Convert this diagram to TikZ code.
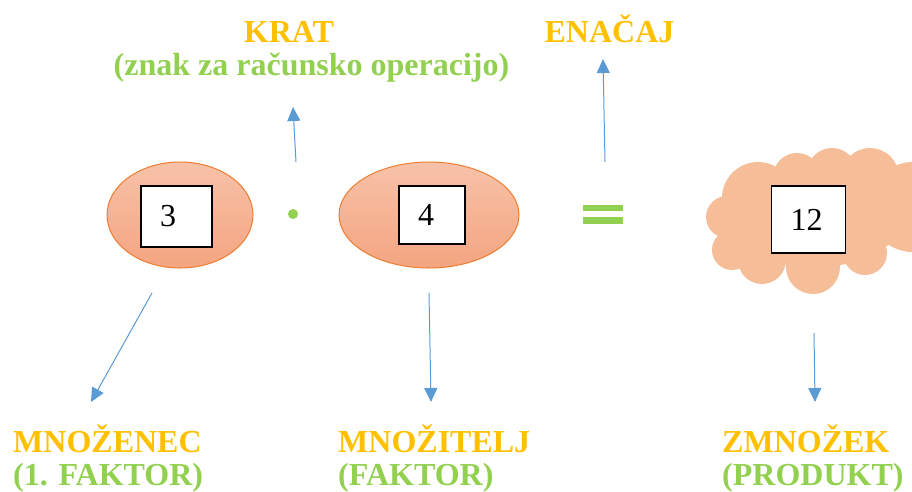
\documentclass[tikz,border=0pt]{standalone}
\usepackage{fontspec}
\setmainfont{Liberation Serif}[BoldFont={Liberation Serif Bold}]
\usetikzlibrary{shapes.geometric,arrows.meta}
\definecolor{gold}{HTML}{FFC000}
\definecolor{lgreen}{HTML}{92D050}
\definecolor{ablue}{HTML}{5B9BD5}
\definecolor{oline}{HTML}{ED7D31}
\definecolor{etop}{HTML}{F7C2A9}
\definecolor{ebot}{HTML}{F4A580}
\definecolor{cloudc}{HTML}{F5BE98}
\begin{document}
\begin{tikzpicture}[x=1pt,y=-1pt,
 lbl/.style={font=\fontsize{32}{35}\selectfont\bfseries, inner sep=0pt},
 title/.style={lbl, text=gold},
 sub/.style={lbl, text=lgreen},
 factor/.style={ellipse, draw=oline, line width=1pt, top color=etop, bottom color=ebot, inner sep=0pt},
 numbox/.style={draw=black, line width=1.2pt, fill=white, font=\fontsize{32}{35}\selectfont, align=left, inner xsep=19pt, inner ysep=0pt},
 arr/.style={draw=ablue, line width=1pt, -{Triangle[length=14pt,width=13pt]}}
]
\useasboundingbox (0,0) rectangle (912,491);

% labels
\node[title, anchor=base] (krat) at (289,42) {KRAT};
\node[sub, anchor=base] (krat2) at (311.5,75) {(znak za računsko operacijo)};
\node[title, anchor=base] (enacaj) at (609.5,42) {ENAČAJ};
\node[title, anchor=base west] (mnozenec) at (13,452) {MNOŽENEC};
\node[sub, anchor=base west] (faktor1) at (13,485) {(1. FAKTOR)};
\node[title, anchor=base west] (mnozitelj) at (338,452) {MNOŽITELJ};
\node[sub, anchor=base west] (faktor2) at (338,485) {(FAKTOR)};
\node[title, anchor=base west] (zmnozek) at (722,452) {ZMNOŽEK};
\node[sub, anchor=base west] (produkt) at (722,485) {(PRODUKT)};

% factors
\node[factor, minimum width=146pt, minimum height=106pt] (ell1) at (180,215) {};
\node[factor, minimum width=180pt, minimum height=106pt] (ell2) at (429,215) {};
\node[numbox, text width=33pt, minimum height=61pt] (n3) at (176.5,216.5) {3};
\node[numbox, text width=28pt, minimum height=58pt] (n4) at (432,215) {4};

% operators
\fill[lgreen] (293,214) circle (5);
\fill[lgreen] (583,204.5) rectangle (623,210.5);
\fill[lgreen] (583,217) rectangle (623,223.5);

% cloud
\begin{scope}
\clip (0,0) rectangle (912,491);
\fill[cloudc]
  (727,217) circle (21)
  (732,250) circle (20)
  (762,260) circle (24)
  (813,267) circle (27)
  (865,253) circle (22)
  (913,207) circle (45)
  (870,177) circle (29)
  (832,173) circle (25)
  (797,177) circle (24)
  (758,198) circle (36);
\fill[cloudc] (815,222) ellipse [x radius=85, y radius=45];
\end{scope}
\node[numbox, text width=36pt, minimum height=67pt] (n12) at (808.7,219.5) {12};

% arrows
\coordinate (kratS) at (296,162);
\coordinate (kratE) at (293,107);
\coordinate (enS) at (605,162);
\coordinate (enE) at (603,59);
\coordinate (lS) at (152,293);
\coordinate (lE) at (91,402);
\coordinate (mS) at (429,293);
\coordinate (mE) at (431,402);
\coordinate (rS) at (814,333);
\coordinate (rE) at (815,402);
\draw[arr] (kratS) -- (kratE);
\draw[arr] (enS) -- (enE);
\draw[arr] (lS) -- (lE);
\draw[arr] (mS) -- (mE);
\draw[arr] (rS) -- (rE);
\end{tikzpicture}
\end{document}
